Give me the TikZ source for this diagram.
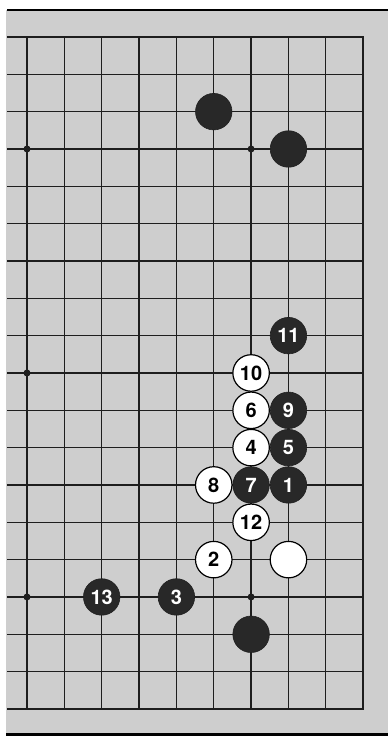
\documentclass[tikz,border=0pt]{standalone}
\usepackage{fontspec}
\setmainfont{TeX Gyre Heros}
\definecolor{boardgray}{RGB}{206,206,206}
\definecolor{stoneblack}{RGB}{40,40,40}
\definecolor{gridline}{RGB}{30,30,30}
\tikzset{
  stone/.style={circle, minimum size=36.5pt, inner sep=0pt, font=\fontsize{20}{20}\selectfont\bfseries},
  bst/.style={stone, fill=stoneblack, draw=stoneblack!80!black, line width=0.6pt, text=white},
  wst/.style={stone, fill=white, draw=black, line width=1.2pt, text=black},
  hoshi/.style={circle, fill=gridline, minimum size=7pt, inner sep=0pt},
  gridln/.style={draw=gridline, line width=1.3pt},
  edgeln/.style={draw=gridline, line width=2pt},
  frameln/.style={draw=black, line width=2.6pt}
}
\begin{document}
\begin{tikzpicture}[x=1pt,y=-1pt]
\useasboundingbox (0,0) rectangle (388,736);
\fill[white] (0,0) rectangle (388,736);
\fill[boardgray] (6,10) rectangle (388,736);
\draw[frameln] (7,10) -- (388,10);
\draw[frameln] (6,734.5) -- (388,734.5);
\begin{scope}[shift={(27,37)}, x=37.35pt, y=-37.33pt]
  \foreach \c in {0,...,8} \draw[gridln] (\c,0) -- (\c,18);
  \foreach \r in {0,...,17} \draw[gridln] (-0.535,\r) -- (9,\r);
  \draw[edgeln] (-0.535,18) -- (9,18) -- (9,0) -- (-0.535,0);
  % star points
  \node[hoshi] (h1) at (0,3) {};
  \node[hoshi] (h2) at (6,3) {};
  \node[hoshi] (h3) at (0,9) {};
  \node[hoshi] (h4) at (0,15) {};
  \node[hoshi] (h5) at (6,15) {};
  % stones
  \node[bst] (b1) at (5,2) {};
  \node[bst] (b2) at (7,3) {};
  \node[bst] (s11) at (7,8) {11};
  \node[wst] (s10) at (6,9) {10};
  \node[wst] (s6) at (6,10) {6};
  \node[bst] (s9) at (7,10) {9};
  \node[wst] (s4) at (6,11) {4};
  \node[bst] (s5) at (7,11) {5};
  \node[wst] (s8) at (5,12) {8};
  \node[bst] (s7) at (6,12) {7};
  \node[bst] (s1) at (7,12) {1};
  \node[wst] (s12) at (6,13) {12};
  \node[wst] (s2) at (5,14) {2};
  \node[wst] (w1) at (7,14) {};
  \node[bst] (s13) at (2,15) {13};
  \node[bst] (s3) at (4,15) {3};
  \node[bst] (b3) at (6,16) {};
\end{scope}
\end{tikzpicture}
\end{document}
